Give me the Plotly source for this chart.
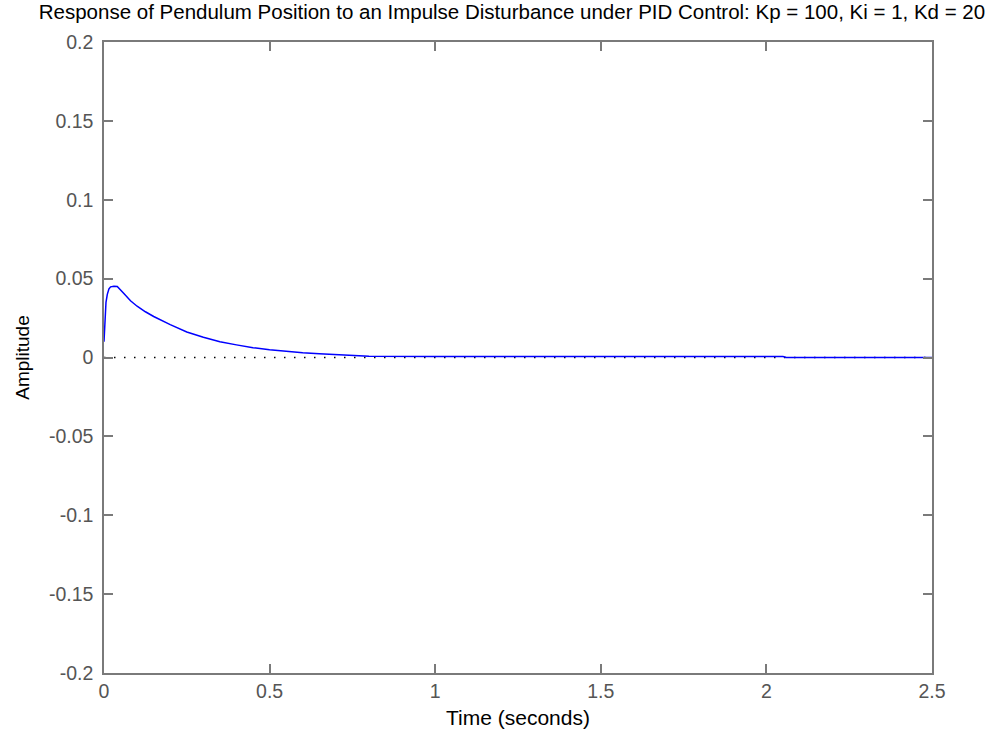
import plotly.graph_objects as go

time_s = [0, 0.003, 0.006, 0.01, 0.015, 0.02, 0.03, 0.04, 0.05, 0.06, 0.08, 0.1,
          0.125, 0.15, 0.2, 0.25, 0.3, 0.35, 0.4, 0.45, 0.5, 0.55, 0.6, 0.65, 0.7,
          0.75, 0.8, 1.0, 1.2, 1.5, 1.8, 2.05, 2.06, 2.5]
amplitude = [0.010, 0.027, 0.035, 0.040, 0.0435, 0.0448, 0.0452, 0.045, 0.0425,
             0.0405, 0.036, 0.0325, 0.029, 0.026, 0.0208, 0.0162, 0.0128, 0.0100,
             0.0080, 0.0062, 0.0049, 0.0038, 0.0030, 0.0023, 0.0017, 0.0012, 0.0008,
             0.0006, 0.0006, 0.0006, 0.0006, 0.0006, 0.0, 0.0]

zero_x = [0, 2.5]
zero_y = [0, 0]

x_ticks = [0, 0.5, 1, 1.5, 2, 2.5]
x_tick_text = ["0", "0.5", "1", "1.5", "2", "2.5"]
y_ticks = [-0.2, -0.15, -0.1, -0.05, 0, 0.05, 0.1, 0.15, 0.2]
y_tick_text = ["-0.2", "-0.15", "-0.1", "-0.05", "0", "0.05", "0.1", "0.15", "0.2"]

title_text = ("Response of Pendulum Position to an Impulse Disturbance under PID Control: "
              "Kp = 100, Ki = 1, Kd = 20")

FONT = "Liberation Sans, Arial, Helvetica, sans-serif"
AX = "#7a7a7a"

fig = go.Figure()
fig.add_trace(go.Scatter(x=zero_x, y=zero_y, mode="lines",
                         line=dict(color="black", width=1.3, dash="1.5px,8.5px"),
                         hoverinfo="skip", showlegend=False))
fig.add_trace(go.Scatter(x=time_s, y=amplitude, mode="lines",
                         line=dict(color="#0000ff", width=1.5), showlegend=False))

axis_common = dict(showgrid=False, zeroline=False, showline=True, linecolor=AX,
                   linewidth=1.5, mirror="ticks", ticks="inside", ticklen=9,
                   tickcolor=AX, tickwidth=1.5,
                   tickfont=dict(family=FONT, size=19.5, color="#555555"))

fig.update_xaxes(range=[0, 2.5], tickvals=x_ticks, ticktext=x_tick_text,
                 ticklabelstandoff=0,
                 title=dict(text="Time (seconds)", font=dict(family=FONT, size=21, color="black"),
                            standoff=9),
                 **axis_common)
fig.update_yaxes(range=[-0.2, 0.2], tickvals=y_ticks, ticktext=y_tick_text,
                 ticklabelstandoff=5,
                 title=dict(text="Amplitude", font=dict(family=FONT, size=19, color="black"),
                            standoff=14),
                 **axis_common)

fig.update_layout(
    width=998, height=742,
    margin=dict(l=104, r=66, t=42, b=69),
    paper_bgcolor="white", plot_bgcolor="white",
    title=dict(text=title_text, x=0.513, xref="container", xanchor="center",
               y=1 - 12 / 742, yref="container", yanchor="middle",
               font=dict(family=FONT, size=20.5, color="black")),
    font=dict(family=FONT),
)

fig.write_html("out.html")
